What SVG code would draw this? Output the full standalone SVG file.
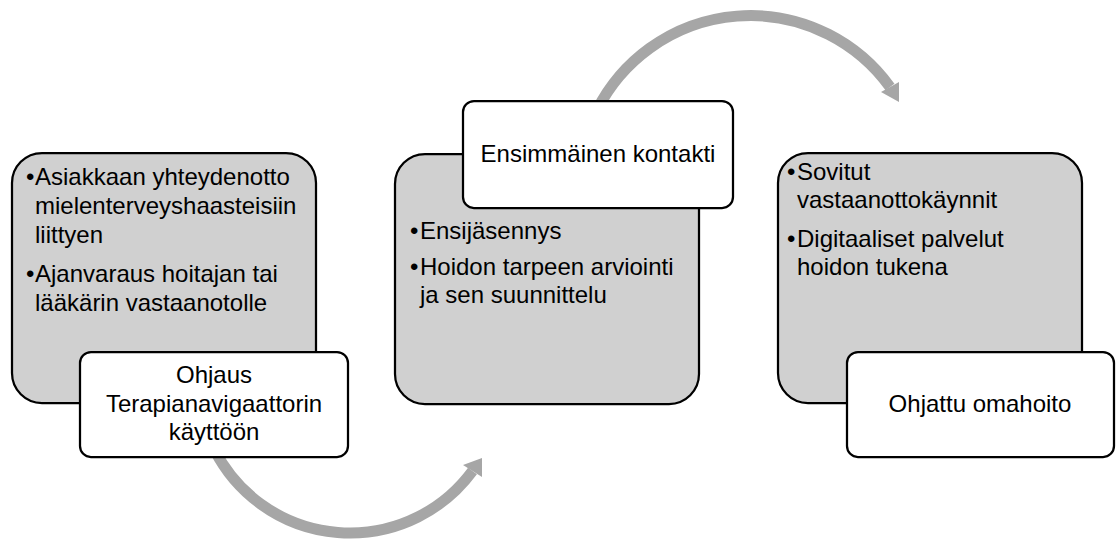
<svg xmlns="http://www.w3.org/2000/svg" width="1117" height="539" viewBox="0 0 1117 539">
<style>
  .gray { fill: #d0d0d0; stroke: #000; stroke-width: 2.25; }
  .white { fill: #fff; stroke: #000; stroke-width: 2.25; }
  .t { font-family: "Liberation Sans", Arial, sans-serif; font-size: 24px; fill: #000; }
  .c { text-anchor: middle; }
  .arc { fill: none; stroke: #a6a6a6; stroke-width: 11; }
  .head { fill: #a6a6a6; }
</style>
<rect width="1117" height="539" fill="#fff"/>
<g id="connectors">
  <path class="arc" d="M 214.6 450 A 152 152 0 0 0 472.5 471"/>
  <polygon class="head" points="482,458 463,465 482,477"/>
  <path class="arc" d="M 597 110 A 172 172 0 0 1 890 87"/>
  <polygon class="head" points="899,102 881,92 899,82"/>
</g>
<g id="node1">
  <rect class="gray" x="12" y="153" width="304" height="250" rx="30"/>
  <text class="t"><tspan x="26" y="185">•</tspan><tspan x="35" y="185">Asiakkaan yhteydenotto</tspan><tspan x="35" y="214">mielenterveyshaasteisiin</tspan><tspan x="35" y="243">liittyen</tspan><tspan x="26" y="282">•</tspan><tspan x="35" y="282">Ajanvaraus hoitajan tai</tspan><tspan x="35" y="311">lääkärin vastaanotolle</tspan></text>
</g>
<g id="node1-label">
  <rect class="white" x="80" y="352" width="268" height="105" rx="11"/>
  <text class="t c"><tspan x="214" y="383">Ohjaus</tspan><tspan x="214" y="412">Terapianavigaattorin</tspan><tspan x="214" y="440">käyttöön</tspan></text>
</g>
<g id="node2">
  <rect class="gray" x="395" y="154" width="304" height="250" rx="30"/>
  <text class="t"><tspan x="410" y="239">•</tspan><tspan x="420" y="239">Ensijäsennys</tspan><tspan x="410" y="275">•</tspan><tspan x="420" y="275">Hoidon tarpeen arviointi</tspan><tspan x="420" y="303">ja sen suunnittelu</tspan></text>
</g>
<g id="node2-label">
  <rect class="white" x="463" y="101" width="270" height="107" rx="11"/>
  <text class="t c" x="598" y="162">Ensimmäinen kontakti</text>
</g>
<g id="node3">
  <rect class="gray" x="778" y="153" width="304" height="250" rx="30"/>
  <text class="t"><tspan x="787" y="180">•</tspan><tspan x="797" y="180">Sovitut</tspan><tspan x="797" y="208">vastaanottokäynnit</tspan><tspan x="787" y="247">•</tspan><tspan x="797" y="247">Digitaaliset palvelut</tspan><tspan x="797" y="275">hoidon tukena</tspan></text>
</g>
<g id="node3-label">
  <rect class="white" x="847" y="352" width="267" height="105" rx="11"/>
  <text class="t c" x="980" y="412">Ohjattu omahoito</text>
</g>
</svg>
